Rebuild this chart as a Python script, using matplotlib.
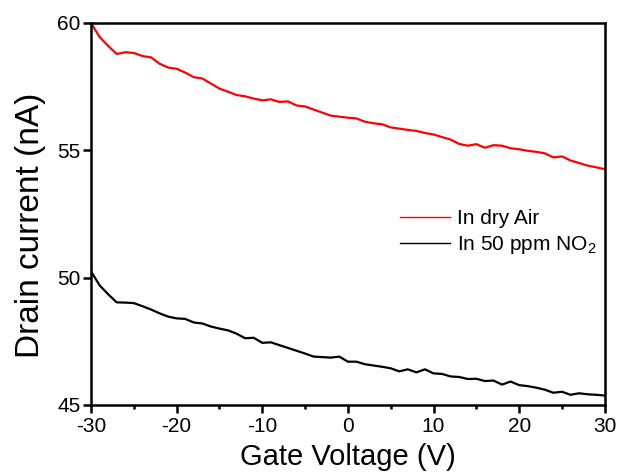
import numpy as np
import matplotlib
matplotlib.use('Agg')
import matplotlib.pyplot as plt
from matplotlib.ticker import MultipleLocator

plt.rcParams['font.family'] = ['Liberation Sans', 'DejaVu Sans']
plt.rcParams['mathtext.default'] = 'regular'
plt.rcParams['axes.unicode_minus'] = False

# gate voltage sweep, 1 V steps
gate_voltage = list(range(-30, 31))

# drain current (nA) in dry air
current_air = [60.0, 59.45, 59.1, 58.78, 58.85, 58.82, 58.7, 58.65, 58.4, 58.25,
               58.2, 58.05, 57.87, 57.82, 57.62, 57.42, 57.3, 57.17, 57.12, 57.03,
               56.96, 57.0, 56.9, 56.92, 56.76, 56.72, 56.6, 56.48, 56.36, 56.32,
               56.28, 56.25, 56.12, 56.06, 56.02, 55.9, 55.85, 55.8, 55.76, 55.68,
               55.62, 55.52, 55.42, 55.25, 55.18, 55.24, 55.1, 55.2, 55.18, 55.08,
               55.04, 54.98, 54.94, 54.88, 54.72, 54.76, 54.6, 54.5, 54.4, 54.33,
               54.26]

# drain current (nA) in 50 ppm NO2
current_no2 = [50.25, 49.7, 49.35, 49.03, 49.02, 49.0, 48.88, 48.75, 48.6, 48.47,
               48.4, 48.38, 48.24, 48.2, 48.08, 48.0, 47.93, 47.8, 47.62, 47.64,
               47.44, 47.46, 47.35, 47.24, 47.13, 47.02, 46.9, 46.88, 46.86, 46.9,
               46.7, 46.7, 46.6, 46.55, 46.5, 46.44, 46.32, 46.4, 46.28, 46.4,
               46.24, 46.22, 46.12, 46.1, 46.02, 46.03, 45.94, 45.96, 45.8, 45.92,
               45.78, 45.74, 45.68, 45.6, 45.48, 45.52, 45.4, 45.46, 45.42, 45.4,
               45.37]

fig = plt.figure(figsize=(6.19, 4.74), dpi=100)
ax = fig.add_axes([0.147, 0.1456, 0.830, 0.806])

ax.plot(gate_voltage, current_air, color='#ff0000', lw=1.6, label='In dry Air')
ax.plot(gate_voltage, current_no2, color='black', lw=1.6, label='In 50 ppm NO$_2$')

ax.set_xlim(-30, 30)
ax.set_ylim(45, 60)
ax.xaxis.set_major_locator(MultipleLocator(10))
ax.xaxis.set_minor_locator(MultipleLocator(5))
ax.yaxis.set_major_locator(MultipleLocator(5))

for s in ax.spines.values():
    s.set_linewidth(1.8)
ax.tick_params(which='major', direction='out', length=5.5, width=1.8, labelsize=15, pad=3)
ax.tick_params(which='minor', direction='out', length=3, width=1.8)
ax.tick_params(axis='y', which='major', length=6, pad=1.5)

ax.set_xlabel('Gate Voltage (V)', fontsize=21, labelpad=5)
ax.set_ylabel('Drain current (nA)', fontsize=24)
ax.yaxis.set_label_coords(-0.088, 0.47)

leg = ax.legend(loc='center left', bbox_to_anchor=(0.601, 0.4505), frameon=False,
                fontsize=15, handlelength=2.4, handletextpad=0.35,
                labelspacing=0.3, borderpad=0, borderaxespad=0)
for h in leg.get_lines():
    h.set_linewidth(1.0)

fig.savefig('out.png', dpi=100)
